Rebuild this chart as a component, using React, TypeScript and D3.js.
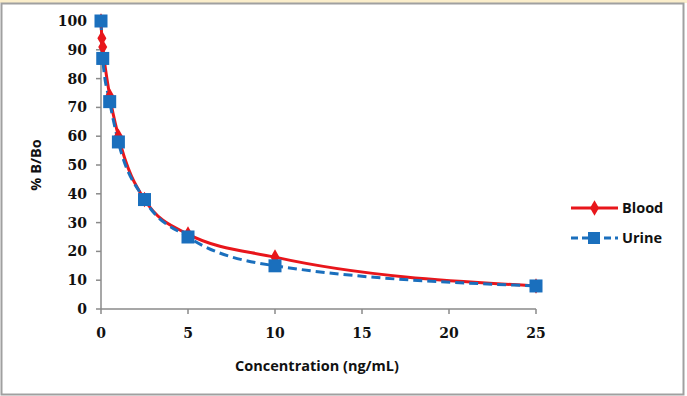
import React from "react";
import * as d3 from "d3";

const width = 687;
const height = 396;
const margin = { top: 21, right: 151, bottom: 87, left: 101 };

// data
const bloodConc = [0, 0.05, 0.1, 0.5, 1, 2.5, 5, 10, 25];
const bloodPct = [100, 94, 91, 74, 60, 38, 26, 18, 8];
const urineConc = [0, 0.1, 0.5, 1, 2.5, 5, 10, 25];
const urinePct = [100, 87, 72, 58, 38, 25, 15, 8];
const xTicks = [0, 5, 10, 15, 20, 25];
const yTicks = [0, 10, 20, 30, 40, 50, 60, 70, 80, 90, 100];

const red = "#e8161b";
const blue = "#1a6fbd";
const axisColor = "#8a8a8a";
const tickFont = "'DejaVu Serif', serif";
const labelFont = "'Open Sans', 'DejaVu Sans', sans-serif";

const App = () => {
  const innerW = width - margin.left - margin.right;
  const innerH = height - margin.top - margin.bottom;
  const x = d3.scaleLinear().domain([0, 25]).range([0, innerW]);
  const y = d3.scaleLinear().domain([0, 100]).range([innerH, 0]);

  const blood = bloodConc.map((c, i) => [c, bloodPct[i]]);
  const urine = urineConc.map((c, i) => [c, urinePct[i]]);

  const line = d3
    .line()
    .x((d) => x(d[0]))
    .y((d) => y(d[1]))
    .curve(d3.curveMonotoneX);

  const diamond = d3.symbol().type(d3.symbolDiamond).size(70)();

  return (
    <svg
      width={width}
      height={height}
      style={{ position: "absolute", left: 0, top: 0, background: "#fff" }}
    >
      <rect x={0} y={0} width={width} height={3} fill="#fbeecb" />
      <rect x={1.5} y={3.5} width={width - 5} height={height - 5} fill="#fff" stroke="#a0a0a0" strokeWidth={2} />

      <g transform={`translate(${margin.left},${margin.top})`}>
        {/* axes */}
        <line x1={0} x2={0} y1={0} y2={innerH} stroke={axisColor} strokeWidth={1.5} />
        <line x1={0} x2={innerW} y1={innerH} y2={innerH} stroke={axisColor} strokeWidth={1.5} />
        {yTicks.map((t) => (
          <g key={"y" + t} transform={`translate(0,${y(t)})`}>
            <line x1={-5} x2={0} stroke={axisColor} strokeWidth={1.5} />
            <text
              x={-14}
              dy="0.35em"
              textAnchor="end"
              fontFamily={tickFont}
              fontWeight="bold"
              fontSize={14}
              fill="#111"
            >
              {t}
            </text>
          </g>
        ))}
        {xTicks.map((t) => (
          <g key={"x" + t} transform={`translate(${x(t)},${innerH})`}>
            <line y1={0} y2={5} stroke={axisColor} strokeWidth={1.5} />
            <text
              y={29}
              textAnchor="middle"
              fontFamily={tickFont}
              fontWeight="bold"
              fontSize={14}
              fill="#111"
            >
              {t}
            </text>
          </g>
        ))}

        {/* series */}
        <path d={line(blood)} fill="none" stroke={red} strokeWidth={3} />
        <path d={line(urine)} fill="none" stroke={blue} strokeWidth={3} strokeDasharray="9,5" />
        {blood.map((d, i) => (
          <path key={"b" + i} d={diamond} transform={`translate(${x(d[0])},${y(d[1])})`} fill={red} />
        ))}
        {urine.map((d, i) => (
          <rect key={"u" + i} x={x(d[0]) - 6.5} y={y(d[1]) - 6.5} width={13} height={13} fill={blue} />
        ))}
      </g>

      {/* axis titles */}
      <text
        x={317}
        y={371}
        textAnchor="middle"
        fontFamily={labelFont}
        fontWeight="bold"
        fontSize={14.5}
        fill="#111"
      >
        Concentration (ng/mL)
      </text>
      <text
        transform="translate(41,165) rotate(-90)"
        textAnchor="middle"
        fontFamily={labelFont}
        fontWeight="bold"
        fontSize={14.5}
        fill="#111"
      >
        % B/Bo
      </text>

      {/* legend */}
      <g transform="translate(571,208)">
        <line x1={0} x2={47} stroke={red} strokeWidth={3} />
        <path d={diamond} transform="translate(23.5,0)" fill={red} />
        <text x={51} dy="0.35em" fontFamily={labelFont} fontWeight="bold" fontSize={14.5} fill="#111">
          Blood
        </text>
      </g>
      <g transform="translate(571,238)">
        <line x1={0} x2={47} stroke={blue} strokeWidth={3} strokeDasharray="7,4" />
        <rect x={17} y={-6} width={12} height={12} fill={blue} />
        <text x={51} dy="0.35em" fontFamily={labelFont} fontWeight="bold" fontSize={14.5} fill="#111">
          Urine
        </text>
      </g>
    </svg>
  );
};

export default App;
